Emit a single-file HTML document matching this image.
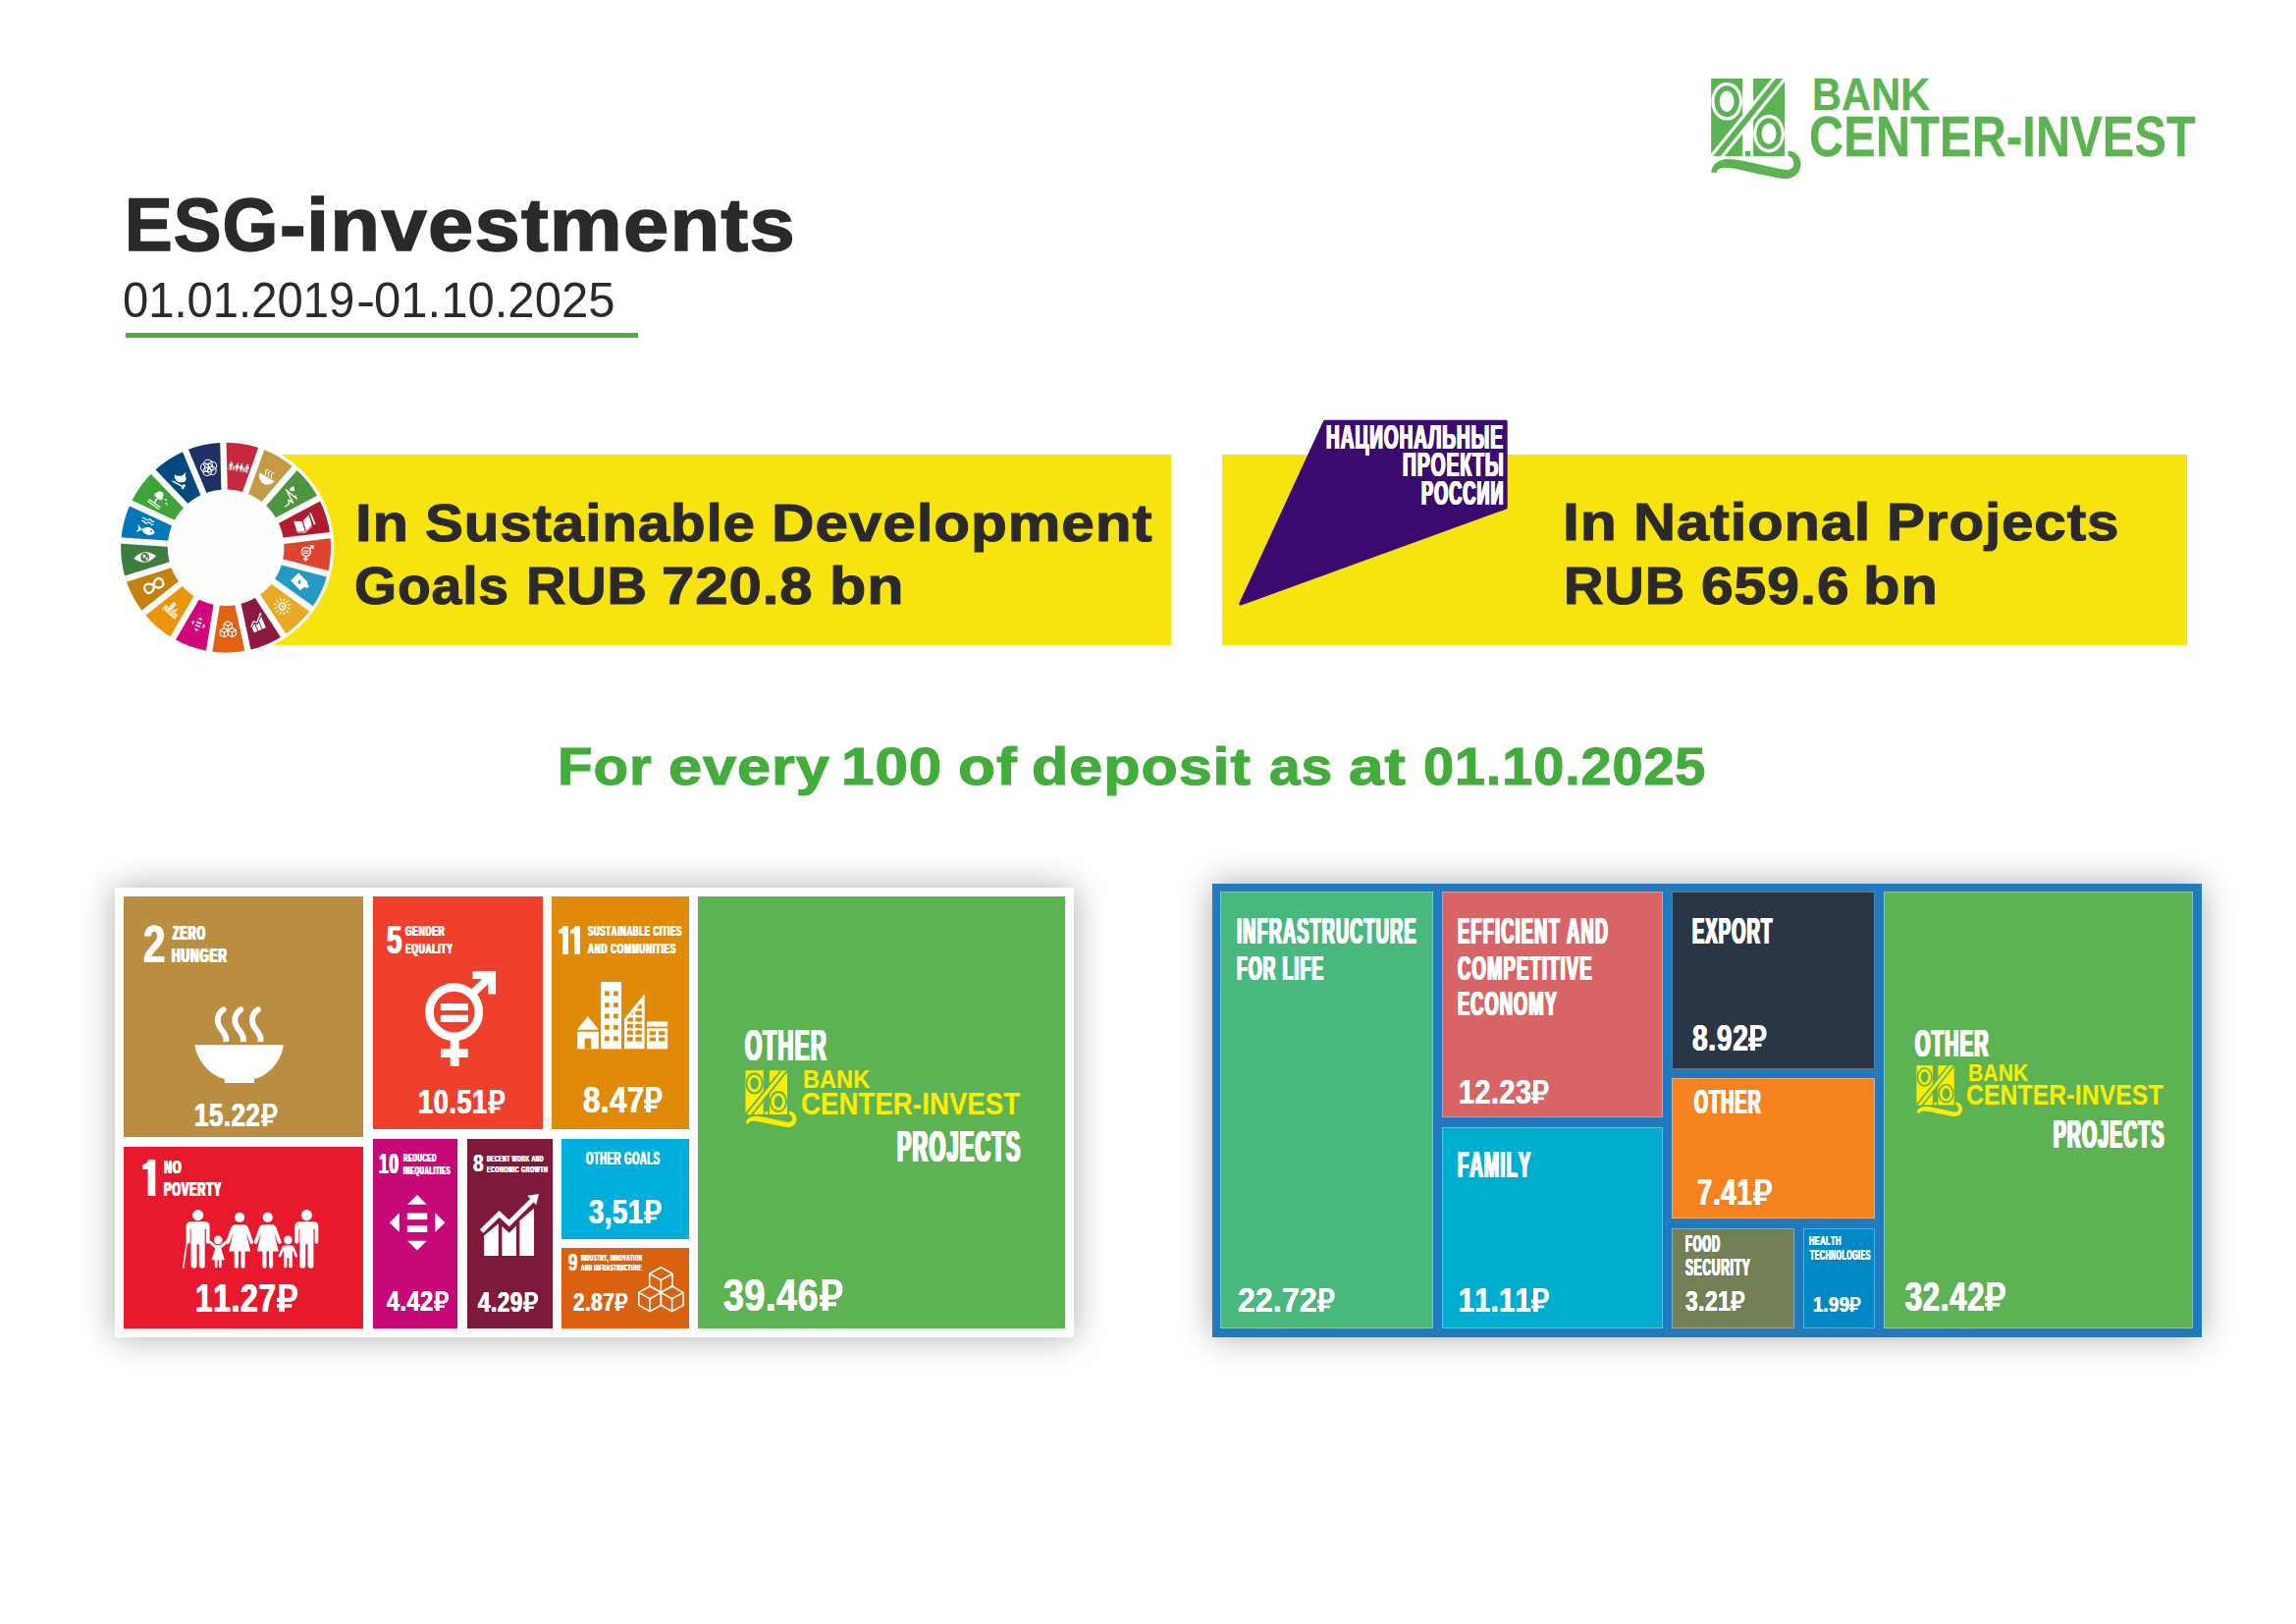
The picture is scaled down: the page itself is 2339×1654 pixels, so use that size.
<!DOCTYPE html>
<html lang="en"><head><meta charset="utf-8"><title>ESG-investments</title>
<style>
html,body{margin:0;padding:0;background:#fff}
body{width:2339px;height:1654px;position:relative;overflow:hidden;font-family:"Liberation Sans",sans-serif;font-kerning:none;}
.r{position:absolute}
.t{position:absolute;white-space:nowrap;line-height:1;font-weight:700;color:#fff;transform-origin:0 0;font-kerning:none;letter-spacing:0}
.rb{position:absolute;overflow:visible}
svg.ov{position:absolute;left:0;top:0}
.sr{position:absolute;left:0;top:0;width:1px;height:1px;overflow:hidden;opacity:0;font-size:1px}
</style></head>
<body>
<svg width="0" height="0" style="position:absolute"><defs>
<path id="rub" d="M45,0H235C345,0 400,62 400,170C400,282 340,345 230,345H150V392H290V458H150V540H45V458H0V392H45V345H0V265H45ZM150,85V265H222C275,265 295,232 295,172C295,112 275,85 222,85Z" fill-rule="evenodd"/>

</defs></svg>
<div class="r" style="left:128.20px;top:339.30px;width:521.80px;height:5.00px;background:#4caf3e;"></div>
<div class="r" style="left:230.00px;top:462.60px;width:962.80px;height:194.40px;background:#f7e30d;"></div>
<div class="r" style="left:1244.60px;top:462.60px;width:983.30px;height:194.40px;background:#f7e30d;"></div>
<div class="r" style="left:116.70px;top:904.00px;width:977.50px;height:457.60px;background:#fdfdfd;box-shadow:0 0 32px rgba(0,0,0,.33);"></div>
<div class="r" style="left:126.20px;top:913.20px;width:243.70px;height:244.50px;background:#bb8d40;"></div>
<div class="r" style="left:126.20px;top:1168.30px;width:243.70px;height:184.40px;background:#e8192d;"></div>
<div class="r" style="left:380.10px;top:913.20px;width:172.80px;height:236.50px;background:#ee402a;"></div>
<div class="r" style="left:562.00px;top:913.20px;width:140.00px;height:236.50px;background:#e08a0a;"></div>
<div class="r" style="left:380.10px;top:1160.10px;width:85.80px;height:192.60px;background:#c70877;"></div>
<div class="r" style="left:476.10px;top:1160.10px;width:86.80px;height:192.60px;background:#7f193b;"></div>
<div class="r" style="left:572.10px;top:1160.10px;width:129.80px;height:101.60px;background:#00aedb;"></div>
<div class="r" style="left:572.10px;top:1271.30px;width:129.80px;height:81.40px;background:#d9610f;"></div>
<div class="r" style="left:711.10px;top:913.20px;width:373.90px;height:439.50px;background:#5db253;"></div>
<div class="r" style="left:1234.80px;top:900.00px;width:1007.90px;height:461.60px;background:#2179be;box-shadow:0 0 32px rgba(0,0,0,.33);"></div>
<div class="r" style="left:1243.40px;top:908.40px;width:216.30px;height:444.80px;background:#48b87c;box-shadow:inset 0 0 0 1px rgba(255,255,255,.32);"></div>
<div class="r" style="left:1468.50px;top:908.40px;width:225.60px;height:229.60px;background:#d96465;box-shadow:inset 0 0 0 1px rgba(255,255,255,.32);"></div>
<div class="r" style="left:1468.50px;top:1147.70px;width:225.60px;height:205.50px;background:#00adcf;box-shadow:inset 0 0 0 1px rgba(255,255,255,.32);"></div>
<div class="r" style="left:1703.10px;top:908.40px;width:206.90px;height:180.90px;background:#2a3646;box-shadow:inset 0 0 0 1px rgba(255,255,255,.32);"></div>
<div class="r" style="left:1703.10px;top:1098.40px;width:206.90px;height:143.10px;background:#f6821f;box-shadow:inset 0 0 0 1px rgba(255,255,255,.32);"></div>
<div class="r" style="left:1703.10px;top:1250.60px;width:125.40px;height:102.60px;background:#737f54;box-shadow:inset 0 0 0 1px rgba(255,255,255,.32);"></div>
<div class="r" style="left:1837.30px;top:1250.60px;width:72.70px;height:102.60px;background:#0089c4;box-shadow:inset 0 0 0 1px rgba(255,255,255,.32);"></div>
<div class="r" style="left:1918.80px;top:908.40px;width:315.30px;height:444.80px;background:#5db253;box-shadow:inset 0 0 0 1px rgba(255,255,255,.32);"></div>
<svg class="ov" width="2339" height="1654" viewBox="0 0 2339 1654"><g transform="translate(1743.15,79.98) scale(0.073893) translate(-178,-135)">
<rect x="178" y="135" width="434" height="1070" fill="#5bb351"/>
<rect x="760" y="135" width="433" height="1070" fill="#5bb351"/>
<ellipse cx="395" cy="450" rx="215" ry="262" fill="#ffffff"/>
<ellipse cx="975" cy="895" rx="215" ry="262" fill="#ffffff"/>
<polygon points="150,1205 365,1205 1225,135 1015,135" fill="#ffffff"/>
<ellipse cx="395" cy="450" rx="172" ry="215" fill="#5bb351"/>
<ellipse cx="395" cy="450" rx="100" ry="145" fill="#ffffff"/>
<ellipse cx="975" cy="895" rx="172" ry="215" fill="#5bb351"/>
<ellipse cx="975" cy="895" rx="100" ry="145" fill="#ffffff"/>
<polygon points="205,1205 310,1205 1170,135 1070,135" fill="#5bb351"/>
<rect x="650" y="1135" width="70" height="70" fill="#5bb351"/>
<path d="M1240,1130 C1340,1140 1415,1210 1415,1310 C1415,1440 1320,1520 1200,1515 C1100,1510 900,1465 700,1420 C560,1388 450,1365 370,1365 C300,1365 262,1390 255,1430 L180,1430 C185,1330 270,1245 420,1245 C520,1245 700,1285 900,1330 C1050,1365 1170,1395 1235,1393 C1290,1390 1318,1350 1315,1300 C1312,1250 1285,1212 1240,1205 Z" fill="#5bb351"/></g>
<g transform="translate(759.5,1090.2) scale(0.041883) translate(-178,-135)">
<rect x="178" y="135" width="434" height="1070" fill="#ffed00"/>
<rect x="760" y="135" width="433" height="1070" fill="#ffed00"/>
<ellipse cx="395" cy="450" rx="215" ry="262" fill="#5db253"/>
<ellipse cx="975" cy="895" rx="215" ry="262" fill="#5db253"/>
<polygon points="150,1205 365,1205 1225,135 1015,135" fill="#5db253"/>
<ellipse cx="395" cy="450" rx="172" ry="215" fill="#ffed00"/>
<ellipse cx="395" cy="450" rx="100" ry="145" fill="#5db253"/>
<ellipse cx="975" cy="895" rx="172" ry="215" fill="#ffed00"/>
<ellipse cx="975" cy="895" rx="100" ry="145" fill="#5db253"/>
<polygon points="205,1205 310,1205 1170,135 1070,135" fill="#ffed00"/>
<rect x="650" y="1135" width="70" height="70" fill="#ffed00"/>
<path d="M1240,1130 C1340,1140 1415,1210 1415,1310 C1415,1440 1320,1520 1200,1515 C1100,1510 900,1465 700,1420 C560,1388 450,1365 370,1365 C300,1365 262,1390 255,1430 L180,1430 C185,1330 270,1245 420,1245 C520,1245 700,1285 900,1330 C1050,1365 1170,1395 1235,1393 C1290,1390 1318,1350 1315,1300 C1312,1250 1285,1212 1240,1205 Z" fill="#ffed00"/></g>
<g transform="translate(1952.5,1085.1) scale(0.037641) translate(-178,-135)">
<rect x="178" y="135" width="434" height="1070" fill="#ffed00"/>
<rect x="760" y="135" width="433" height="1070" fill="#ffed00"/>
<ellipse cx="395" cy="450" rx="215" ry="262" fill="#5db253"/>
<ellipse cx="975" cy="895" rx="215" ry="262" fill="#5db253"/>
<polygon points="150,1205 365,1205 1225,135 1015,135" fill="#5db253"/>
<ellipse cx="395" cy="450" rx="172" ry="215" fill="#ffed00"/>
<ellipse cx="395" cy="450" rx="100" ry="145" fill="#5db253"/>
<ellipse cx="975" cy="895" rx="172" ry="215" fill="#ffed00"/>
<ellipse cx="975" cy="895" rx="100" ry="145" fill="#5db253"/>
<polygon points="205,1205 310,1205 1170,135 1070,135" fill="#ffed00"/>
<rect x="650" y="1135" width="70" height="70" fill="#ffed00"/>
<path d="M1240,1130 C1340,1140 1415,1210 1415,1310 C1415,1440 1320,1520 1200,1515 C1100,1510 900,1465 700,1420 C560,1388 450,1365 370,1365 C300,1365 262,1390 255,1430 L180,1430 C185,1330 270,1245 420,1245 C520,1245 700,1285 900,1330 C1050,1365 1170,1395 1235,1393 C1290,1390 1318,1350 1315,1300 C1312,1250 1285,1212 1240,1205 Z" fill="#ffed00"/></g>
<circle cx="230.1" cy="557.7" r="110.2" fill="#fdfdfd"/>
<path d="M227.39,450.73 A107.0,107.0 0 0 1 266.22,456.98 L250.12,501.88 A59.3,59.3 0 0 0 228.60,498.42Z" fill="#c5283f"/>
<path d="M266.22,456.98 A107.0,107.0 0 0 1 300.16,476.83 L268.93,512.88 A59.3,59.3 0 0 0 250.12,501.88Z" fill="#c49a45"/>
<path d="M300.16,476.83 A107.0,107.0 0 0 1 324.64,507.60 L282.50,529.93 A59.3,59.3 0 0 0 268.93,512.88Z" fill="#4d9640"/>
<path d="M324.64,507.60 A107.0,107.0 0 0 1 336.36,545.13 L288.99,550.74 A59.3,59.3 0 0 0 282.50,529.93Z" fill="#b01c2e"/>
<path d="M336.36,545.13 A107.0,107.0 0 0 1 333.72,584.37 L287.53,572.48 A59.3,59.3 0 0 0 288.99,550.74Z" fill="#dd4530"/>
<path d="M333.72,584.37 A107.0,107.0 0 0 1 317.09,620.00 L278.31,592.23 A59.3,59.3 0 0 0 287.53,572.48Z" fill="#2499c4"/>
<path d="M317.09,620.00 A107.0,107.0 0 0 1 288.71,647.22 L262.58,607.31 A59.3,59.3 0 0 0 278.31,592.23Z" fill="#e9a826"/>
<path d="M288.71,647.22 A107.0,107.0 0 0 1 252.42,662.35 L242.47,615.70 A59.3,59.3 0 0 0 262.58,607.31Z" fill="#8c1a40"/>
<path d="M252.42,662.35 A107.0,107.0 0 0 1 213.11,663.34 L220.68,616.25 A59.3,59.3 0 0 0 242.47,615.70Z" fill="#e2620f"/>
<path d="M213.11,663.34 A107.0,107.0 0 0 1 176.09,650.07 L200.17,608.89 A59.3,59.3 0 0 0 220.68,616.25Z" fill="#d3057a"/>
<path d="M176.09,650.07 A107.0,107.0 0 0 1 146.37,624.32 L183.70,594.62 A59.3,59.3 0 0 0 200.17,608.89Z" fill="#eb960a"/>
<path d="M146.37,624.32 A107.0,107.0 0 0 1 127.96,589.58 L173.49,575.37 A59.3,59.3 0 0 0 183.70,594.62Z" fill="#c5810d"/>
<path d="M127.96,589.58 A107.0,107.0 0 0 1 123.34,550.53 L170.93,553.72 A59.3,59.3 0 0 0 173.49,575.37Z" fill="#3e7c3f"/>
<path d="M123.34,550.53 A107.0,107.0 0 0 1 133.14,512.45 L176.36,532.62 A59.3,59.3 0 0 0 170.93,553.72Z" fill="#0378b9"/>
<path d="M133.14,512.45 A107.0,107.0 0 0 1 156.04,480.48 L189.05,514.90 A59.3,59.3 0 0 0 176.36,532.62Z" fill="#3fa438"/>
<path d="M156.04,480.48 A107.0,107.0 0 0 1 188.93,458.94 L207.29,502.96 A59.3,59.3 0 0 0 189.05,514.90Z" fill="#03497f"/>
<path d="M188.93,458.94 A107.0,107.0 0 0 1 227.39,450.73 L228.60,498.42 A59.3,59.3 0 0 0 207.29,502.96Z" fill="#1e3066"/>
<line x1="228.65" y1="500.42" x2="227.34" y2="448.73" stroke="#fdfdfd" stroke-width="6.4"/>
<line x1="249.44" y1="503.76" x2="266.89" y2="455.10" stroke="#fdfdfd" stroke-width="6.4"/>
<line x1="267.62" y1="514.39" x2="301.47" y2="475.32" stroke="#fdfdfd" stroke-width="6.4"/>
<line x1="280.73" y1="530.87" x2="326.41" y2="506.66" stroke="#fdfdfd" stroke-width="6.4"/>
<line x1="287.00" y1="550.97" x2="338.35" y2="544.90" stroke="#fdfdfd" stroke-width="6.4"/>
<line x1="285.59" y1="571.98" x2="335.66" y2="584.87" stroke="#fdfdfd" stroke-width="6.4"/>
<line x1="276.69" y1="591.06" x2="318.72" y2="621.17" stroke="#fdfdfd" stroke-width="6.4"/>
<line x1="261.49" y1="605.64" x2="289.81" y2="648.89" stroke="#fdfdfd" stroke-width="6.4"/>
<line x1="242.05" y1="613.74" x2="252.83" y2="664.30" stroke="#fdfdfd" stroke-width="6.4"/>
<line x1="221.00" y1="614.27" x2="212.79" y2="665.32" stroke="#fdfdfd" stroke-width="6.4"/>
<line x1="201.18" y1="607.17" x2="175.08" y2="651.80" stroke="#fdfdfd" stroke-width="6.4"/>
<line x1="185.26" y1="593.38" x2="144.81" y2="625.57" stroke="#fdfdfd" stroke-width="6.4"/>
<line x1="175.40" y1="574.77" x2="126.05" y2="590.17" stroke="#fdfdfd" stroke-width="6.4"/>
<line x1="172.93" y1="553.86" x2="121.35" y2="550.39" stroke="#fdfdfd" stroke-width="6.4"/>
<line x1="178.18" y1="533.47" x2="131.33" y2="511.60" stroke="#fdfdfd" stroke-width="6.4"/>
<line x1="190.44" y1="516.35" x2="154.65" y2="479.03" stroke="#fdfdfd" stroke-width="6.4"/>
<line x1="208.06" y1="504.81" x2="188.17" y2="457.09" stroke="#fdfdfd" stroke-width="6.4"/>
<polygon points="1349.5,429.3 1534.2,429.3 1534.2,517 1263.7,615.1" fill="#3b0a6f" stroke="#3b0a6f" stroke-width="3" stroke-linejoin="round"/>
<g transform="translate(120,905) scale(0.160102)" ><path d="M672,770 C622,805 628,860 662,900 C690,933 692,955 688,975" fill="none" stroke="#fff" stroke-width="37" stroke-linecap="round"/><path d="M782,770 C732,805 738,860 772,900 C800,933 802,955 798,975" fill="none" stroke="#fff" stroke-width="37" stroke-linecap="round"/><path d="M892,770 C842,805 848,860 882,900 C910,933 912,955 908,975" fill="none" stroke="#fff" stroke-width="37" stroke-linecap="round"/><rect x="640" y="975" width="300" height="24" fill="#bb8d40"/><path d="M490,995 H1055 C1040,1100 960,1190 868,1212 V1237 H680 V1212 C590,1190 505,1100 490,995Z" fill="#fff"/></g>
<g transform="translate(120,1160) scale(0.123168)" ><circle cx="663" cy="630" r="45" fill="#fff"/><path transform="translate(0,0)" d="M605,685 H720 Q760,685 760,725 V850 Q760,866 745,866 Q730,866 730,850 V745 H720 V1050 Q720,1070 698,1070 Q676,1070 672,1050 V870 H654 V1050 Q654,1070 630,1070 Q608,1070 605,1050 V745 H598 V850 Q598,866 582,866 Q565,866 565,850 V725 Q565,685 605,685Z" fill="#fff"/><line x1="572" y1="850" x2="541" y2="1068" stroke="#fff" stroke-width="13"/><circle cx="1562" cy="630" r="45" fill="#fff"/><path transform="translate(899,0)" d="M605,685 H720 Q760,685 760,725 V850 Q760,866 745,866 Q730,866 730,850 V745 H720 V1050 Q720,1070 698,1070 Q676,1070 672,1050 V870 H654 V1050 Q654,1070 630,1070 Q608,1070 605,1050 V745 H598 V850 Q598,866 582,866 Q565,866 565,850 V725 Q565,685 605,685Z" fill="#fff"/><circle cx="1008" cy="648" r="41" fill="#fff"/><path transform="translate(0,0)" d="M965,708 H1051 Q1072,710 1080,735 L1121,850 Q1124,864 1110,868 Q1098,870 1092,856 L1062,775 L1097,930 H1052 V1052 Q1052,1070 1036,1070 Q1019,1070 1019,1052 V930 H998 V1052 Q998,1070 981,1070 Q964,1070 964,1052 V930 H919 L954,775 L924,856 Q918,870 906,868 Q892,864 895,850 L936,735 Q944,710 965,708Z" fill="#fff"/><circle cx="1240" cy="648" r="41" fill="#fff"/><path transform="translate(232,0)" d="M965,708 H1051 Q1072,710 1080,735 L1121,850 Q1124,864 1110,868 Q1098,870 1092,856 L1062,775 L1097,930 H1052 V1052 Q1052,1070 1036,1070 Q1019,1070 1019,1052 V930 H998 V1052 Q998,1070 981,1070 Q964,1070 964,1052 V930 H919 L954,775 L924,856 Q918,870 906,868 Q892,864 895,850 L936,735 Q944,710 965,708Z" fill="#fff"/><circle cx="830" cy="835" r="35" fill="#fff"/><path d="M812,878 H848 L890,842 Q900,836 906,846 Q910,856 902,862 L855,905 L884,1000 H858 V1056 Q858,1066 847,1066 Q836,1066 836,1056 V1000 H824 V1056 Q824,1066 813,1066 Q802,1066 802,1056 V1000 H776 L805,905 L758,862 Q750,856 754,846 Q760,836 770,842 Z" fill="#fff"/><circle cx="1408" cy="835" r="35" fill="#fff"/><path d="M1380,880 H1436 Q1452,882 1458,896 L1486,962 Q1490,974 1480,978 Q1470,980 1466,970 L1444,920 V1056 Q1444,1068 1430,1068 Q1416,1068 1416,1056 V985 H1400 V1056 Q1400,1068 1386,1068 Q1372,1068 1372,1056 V920 L1350,970 Q1346,980 1336,978 Q1326,974 1330,962 L1358,896 Q1364,882 1380,880Z" fill="#fff"/></g>
<g transform="translate(375,905) scale(0.157060)" ><circle cx="558" cy="800" r="160" fill="none" stroke="#fff" stroke-width="55"/><rect x="470" y="745" width="178" height="45" fill="#fff"/><rect x="470" y="820" width="178" height="45" fill="#fff"/><rect x="533" y="975" width="57" height="177" fill="#fff"/><rect x="472" y="1040" width="176" height="55" fill="#fff"/><line x1="668" y1="690" x2="800" y2="562" stroke="#fff" stroke-width="50"/><polygon points="678,535 828,535 828,685 778,685 778,585 678,585" fill="#fff"/></g>
<g transform="translate(375,905) scale(0.157060)" ><polygon points="1355,915 1425,828 1495,915" fill="#fff"/><rect x="1357" y="928" width="138" height="112" fill="#fff"/><rect x="1405" y="972" width="42" height="68" fill="#e08a0a"/><rect x="1510" y="605" width="133" height="435" fill="#fff"/><rect x="1535" y="665" width="30" height="30" fill="#e08a0a"/><rect x="1592" y="665" width="30" height="30" fill="#e08a0a"/><rect x="1535" y="740" width="30" height="30" fill="#e08a0a"/><rect x="1592" y="740" width="30" height="30" fill="#e08a0a"/><rect x="1535" y="812" width="30" height="30" fill="#e08a0a"/><rect x="1592" y="812" width="30" height="30" fill="#e08a0a"/><rect x="1535" y="885" width="30" height="30" fill="#e08a0a"/><rect x="1592" y="885" width="30" height="30" fill="#e08a0a"/><rect x="1535" y="958" width="30" height="30" fill="#e08a0a"/><rect x="1592" y="958" width="30" height="30" fill="#e08a0a"/><polygon points="1662,845 1793,683 1793,1040 1662,1040" fill="#fff"/><clipPath id="cl11"><polygon points="1678,1000 1678,857 1776,736 1776,1000"/></clipPath><g clip-path="url(#cl11)"><rect x="1678" y="708" width="40" height="27" fill="#e08a0a"/><rect x="1734" y="708" width="42" height="27" fill="#e08a0a"/><rect x="1678" y="751" width="40" height="27" fill="#e08a0a"/><rect x="1734" y="751" width="42" height="27" fill="#e08a0a"/><rect x="1678" y="794" width="40" height="27" fill="#e08a0a"/><rect x="1734" y="794" width="42" height="27" fill="#e08a0a"/><rect x="1678" y="836" width="40" height="27" fill="#e08a0a"/><rect x="1734" y="836" width="42" height="27" fill="#e08a0a"/><rect x="1678" y="878" width="40" height="27" fill="#e08a0a"/><rect x="1734" y="878" width="42" height="27" fill="#e08a0a"/><rect x="1678" y="920" width="40" height="27" fill="#e08a0a"/><rect x="1734" y="920" width="42" height="27" fill="#e08a0a"/><rect x="1678" y="963" width="40" height="27" fill="#e08a0a"/><rect x="1734" y="963" width="42" height="27" fill="#e08a0a"/></g><rect x="1808" y="862" width="135" height="33" fill="#fff"/><rect x="1808" y="905" width="135" height="135" fill="#fff"/><rect x="1825" y="925" width="40" height="25" fill="#e08a0a"/><rect x="1885" y="925" width="40" height="25" fill="#e08a0a"/><rect x="1825" y="965" width="40" height="25" fill="#e08a0a"/><rect x="1885" y="965" width="40" height="25" fill="#e08a0a"/></g>
<g transform="translate(375,1155) scale(0.145900)" fill="#fff"><polygon points="343,425 410,492 275,492"/><polygon points="343,812 410,745 275,745"/><polygon points="150,618 218,550 218,685"/><polygon points="537,618 468,550 468,685"/><rect x="273" y="552" width="140" height="45"/><rect x="273" y="640" width="140" height="45"/></g>
<g transform="translate(375,1155) scale(0.145900)" fill="#fff"><polygon points="810,850 810,710 910,625 910,850"/><polygon points="935,850 935,645 985,690 1035,640 1035,850"/><polygon points="1058,850 1058,605 1158,520 1158,850"/><polyline points="792,678 915,558 985,622 1150,457" fill="none" stroke="#fff" stroke-width="34"/><polygon points="1112,430 1192,418 1174,496"/></g>
<g transform="translate(375,1155) scale(0.145900)" fill="none" stroke="#fff" stroke-width="11" stroke-linejoin="round"><polygon points="2045,930 2125,975 2125,1060 2045,1105 1965,1060 1965,975"/><polyline points="1965,975 2045,1020 2125,975"/><line x1="2045" y1="1020" x2="2045" y2="1105"/><polygon points="1968,1062 2046,1106 2046,1194 1968,1238 1890,1194 1890,1106"/><polyline points="1890,1106 1968,1150 2046,1106"/><line x1="1968" y1="1150" x2="1968" y2="1238"/><polygon points="2122,1062 2200,1106 2200,1194 2122,1238 2044,1194 2044,1106"/><polyline points="2044,1106 2122,1150 2200,1106"/><line x1="2122" y1="1150" x2="2122" y2="1238"/></g>
<g transform="translate(243.28,475.75) rotate(9.1)"><g transform="scale(0.0186) translate(-1100,-829)" ><circle cx="663" cy="630" r="45" fill="#fff"/><path transform="translate(0,0)" d="M605,685 H720 Q760,685 760,725 V850 Q760,866 745,866 Q730,866 730,850 V745 H720 V1050 Q720,1070 698,1070 Q676,1070 672,1050 V870 H654 V1050 Q654,1070 630,1070 Q608,1070 605,1050 V745 H598 V850 Q598,866 582,866 Q565,866 565,850 V725 Q565,685 605,685Z" fill="#fff"/><line x1="572" y1="850" x2="541" y2="1068" stroke="#fff" stroke-width="13"/><circle cx="1562" cy="630" r="45" fill="#fff"/><path transform="translate(899,0)" d="M605,685 H720 Q760,685 760,725 V850 Q760,866 745,866 Q730,866 730,850 V745 H720 V1050 Q720,1070 698,1070 Q676,1070 672,1050 V870 H654 V1050 Q654,1070 630,1070 Q608,1070 605,1050 V745 H598 V850 Q598,866 582,866 Q565,866 565,850 V725 Q565,685 605,685Z" fill="#fff"/><circle cx="1008" cy="648" r="41" fill="#fff"/><path transform="translate(0,0)" d="M965,708 H1051 Q1072,710 1080,735 L1121,850 Q1124,864 1110,868 Q1098,870 1092,856 L1062,775 L1097,930 H1052 V1052 Q1052,1070 1036,1070 Q1019,1070 1019,1052 V930 H998 V1052 Q998,1070 981,1070 Q964,1070 964,1052 V930 H919 L954,775 L924,856 Q918,870 906,868 Q892,864 895,850 L936,735 Q944,710 965,708Z" fill="#fff"/><circle cx="1240" cy="648" r="41" fill="#fff"/><path transform="translate(232,0)" d="M965,708 H1051 Q1072,710 1080,735 L1121,850 Q1124,864 1110,868 Q1098,870 1092,856 L1062,775 L1097,930 H1052 V1052 Q1052,1070 1036,1070 Q1019,1070 1019,1052 V930 H998 V1052 Q998,1070 981,1070 Q964,1070 964,1052 V930 H919 L954,775 L924,856 Q918,870 906,868 Q892,864 895,850 L936,735 Q944,710 965,708Z" fill="#fff"/><circle cx="830" cy="835" r="35" fill="#fff"/><path d="M812,878 H848 L890,842 Q900,836 906,846 Q910,856 902,862 L855,905 L884,1000 H858 V1056 Q858,1066 847,1066 Q836,1066 836,1056 V1000 H824 V1056 Q824,1066 813,1066 Q802,1066 802,1056 V1000 H776 L805,905 L758,862 Q750,856 754,846 Q760,836 770,842 Z" fill="#fff"/><circle cx="1408" cy="835" r="35" fill="#fff"/><path d="M1380,880 H1436 Q1452,882 1458,896 L1486,962 Q1490,974 1480,978 Q1470,980 1466,970 L1444,920 V1056 Q1444,1068 1430,1068 Q1416,1068 1416,1056 V985 H1400 V1056 Q1400,1068 1386,1068 Q1372,1068 1372,1056 V920 L1350,970 Q1346,980 1336,978 Q1326,974 1330,962 L1358,896 Q1364,882 1380,880Z" fill="#fff"/></g></g>
<g transform="translate(271.99,486.05) rotate(30.3)"><g transform="scale(0.031) translate(-772,-1000)" ><path d="M672,770 C622,805 628,860 662,900 C690,933 692,955 688,975" fill="none" stroke="#fff" stroke-width="37" stroke-linecap="round"/><path d="M782,770 C732,805 738,860 772,900 C800,933 802,955 798,975" fill="none" stroke="#fff" stroke-width="37" stroke-linecap="round"/><path d="M892,770 C842,805 848,860 882,900 C910,933 912,955 908,975" fill="none" stroke="#fff" stroke-width="37" stroke-linecap="round"/><rect x="640" y="975" width="300" height="24" fill="#c49a45"/><path d="M490,995 H1055 C1040,1100 960,1190 868,1212 V1237 H680 V1212 C590,1190 505,1100 490,995Z" fill="#fff"/></g></g>
<g transform="translate(295.05,506.02) rotate(-38.5)"><path d="M-10,5 H-4.5 L-3,1.5 L-1,7 L1.8,-8 L4.3,6 L5.6,2.5" fill="none" stroke="#fff" stroke-width="1.3" stroke-linejoin="round"/><path d="M7.2,-1.5 L4.6,-4.3 A1.6,1.6 0 0 1 7.2,-6 A1.6,1.6 0 0 1 9.8,-4.3Z" fill="#fff"/></g>
<g transform="translate(309.33,532.97) rotate(-17.3)"><path d="M-9,-5 L-1,-2.5 V8 L-9,5.5Z M0.2,-2.5 L7.5,-6.5 V4 L0.2,8Z" fill="#fff"/><path d="M-9,6.6 L-1,9.2 L7.5,5.2" fill="none" stroke="#fff" stroke-width="0.9"/><line x1="9.6" y1="-8" x2="10.6" y2="4.5" stroke="#fff" stroke-width="1.7"/></g>
<g transform="translate(312.91,563.26) rotate(3.8)"><g transform="scale(0.0276) translate(-599,-843)" ><circle cx="558" cy="800" r="160" fill="none" stroke="#fff" stroke-width="55"/><rect x="470" y="745" width="178" height="45" fill="#fff"/><rect x="470" y="820" width="178" height="45" fill="#fff"/><rect x="533" y="975" width="57" height="177" fill="#fff"/><rect x="472" y="1040" width="176" height="55" fill="#fff"/><line x1="668" y1="690" x2="800" y2="562" stroke="#fff" stroke-width="50"/><polygon points="678,535 828,535 828,685 778,685 778,585 678,585" fill="#fff"/></g></g>
<g transform="translate(305.31,592.80) rotate(25.0)"><path d="M-5,-8 L7,-3.5 L8.5,-1 L4,7.5 L-9,2.5Z" fill="#fff"/><path d="M-0.5,-2.5 C1.5,-0.5 2,1.5 0,2.4 C-2,1.8 -2,0 -0.5,-2.5Z" fill="#2499c4"/><rect x="7.2" y="-1.2" width="3" height="3.4" fill="#fff" transform="rotate(20 8 0)"/></g>
<g transform="translate(287.55,617.60) rotate(-43.8)"><circle r="4.1" fill="#fff"/><circle r="2.6" fill="#e9a826"/><circle r="1.3" fill="#fff"/><g stroke="#fff" stroke-width="1.25"><line x1="0" y1="-5.6" x2="0" y2="-8.6" transform="rotate(0)"/><line x1="0" y1="-5.6" x2="0" y2="-8.6" transform="rotate(30)"/><line x1="0" y1="-5.6" x2="0" y2="-8.6" transform="rotate(60)"/><line x1="0" y1="-5.6" x2="0" y2="-8.6" transform="rotate(90)"/><line x1="0" y1="-5.6" x2="0" y2="-8.6" transform="rotate(120)"/><line x1="0" y1="-5.6" x2="0" y2="-8.6" transform="rotate(150)"/><line x1="0" y1="-5.6" x2="0" y2="-8.6" transform="rotate(180)"/><line x1="0" y1="-5.6" x2="0" y2="-8.6" transform="rotate(210)"/><line x1="0" y1="-5.6" x2="0" y2="-8.6" transform="rotate(240)"/><line x1="0" y1="-5.6" x2="0" y2="-8.6" transform="rotate(270)"/><line x1="0" y1="-5.6" x2="0" y2="-8.6" transform="rotate(300)"/><line x1="0" y1="-5.6" x2="0" y2="-8.6" transform="rotate(330)"/></g></g>
<g transform="translate(262.03,634.31) rotate(-22.6)"><g transform="scale(0.0373) translate(-991,-634)" fill="#fff"><polygon points="810,850 810,710 910,625 910,850"/><polygon points="935,850 935,645 985,690 1035,640 1035,850"/><polygon points="1058,850 1058,605 1158,520 1158,850"/><polyline points="792,678 915,558 985,622 1150,457" fill="none" stroke="#fff" stroke-width="34"/><polygon points="1112,430 1192,418 1174,496"/></g></g>
<g transform="translate(232.20,640.67) rotate(-1.4)"><g transform="scale(0.052) translate(-2044,-1082)" fill="none" stroke="#fff" stroke-width="20" stroke-linejoin="round"><polygon points="2045,930 2125,975 2125,1060 2045,1105 1965,1060 1965,975"/><polyline points="1965,975 2045,1020 2125,975"/><line x1="2045" y1="1020" x2="2045" y2="1105"/><polygon points="1968,1062 2046,1106 2046,1194 1968,1238 1890,1194 1890,1106"/><polyline points="1890,1106 1968,1150 2046,1106"/><line x1="1968" y1="1150" x2="1968" y2="1238"/><polygon points="2122,1062 2200,1106 2200,1194 2122,1238 2044,1194 2044,1106"/><polyline points="2044,1106 2122,1150 2200,1106"/><line x1="2122" y1="1150" x2="2122" y2="1238"/></g></g>
<g transform="translate(202.08,635.83) rotate(19.7)"><g transform="scale(0.0388) translate(-343,-618)" fill="#fff"><polygon points="343,425 410,492 275,492"/><polygon points="343,812 410,745 275,745"/><polygon points="150,618 218,550 218,685"/><polygon points="537,618 468,550 468,685"/><rect x="273" y="552" width="140" height="45"/><rect x="273" y="640" width="140" height="45"/></g></g>
<g transform="translate(175.75,620.43) rotate(40.9)"><g transform="scale(0.0289) translate(-1649,-822)" ><polygon points="1355,915 1425,828 1495,915" fill="#fff"/><rect x="1357" y="928" width="138" height="112" fill="#fff"/><rect x="1405" y="972" width="42" height="68" fill="#eb960a"/><rect x="1510" y="605" width="133" height="435" fill="#fff"/><rect x="1535" y="665" width="30" height="30" fill="#eb960a"/><rect x="1592" y="665" width="30" height="30" fill="#eb960a"/><rect x="1535" y="740" width="30" height="30" fill="#eb960a"/><rect x="1592" y="740" width="30" height="30" fill="#eb960a"/><rect x="1535" y="812" width="30" height="30" fill="#eb960a"/><rect x="1592" y="812" width="30" height="30" fill="#eb960a"/><rect x="1535" y="885" width="30" height="30" fill="#eb960a"/><rect x="1592" y="885" width="30" height="30" fill="#eb960a"/><rect x="1535" y="958" width="30" height="30" fill="#eb960a"/><rect x="1592" y="958" width="30" height="30" fill="#eb960a"/><polygon points="1662,845 1793,683 1793,1040 1662,1040" fill="#fff"/><clipPath id="cl11w"><polygon points="1678,1000 1678,857 1776,736 1776,1000"/></clipPath><g clip-path="url(#cl11w)"><rect x="1678" y="708" width="40" height="27" fill="#eb960a"/><rect x="1734" y="708" width="42" height="27" fill="#eb960a"/><rect x="1678" y="751" width="40" height="27" fill="#eb960a"/><rect x="1734" y="751" width="42" height="27" fill="#eb960a"/><rect x="1678" y="794" width="40" height="27" fill="#eb960a"/><rect x="1734" y="794" width="42" height="27" fill="#eb960a"/><rect x="1678" y="836" width="40" height="27" fill="#eb960a"/><rect x="1734" y="836" width="42" height="27" fill="#eb960a"/><rect x="1678" y="878" width="40" height="27" fill="#eb960a"/><rect x="1734" y="878" width="42" height="27" fill="#eb960a"/><rect x="1678" y="920" width="40" height="27" fill="#eb960a"/><rect x="1734" y="920" width="42" height="27" fill="#eb960a"/><rect x="1678" y="963" width="40" height="27" fill="#eb960a"/><rect x="1734" y="963" width="42" height="27" fill="#eb960a"/></g><rect x="1808" y="862" width="135" height="33" fill="#fff"/><rect x="1808" y="905" width="135" height="135" fill="#fff"/><rect x="1825" y="925" width="40" height="25" fill="#eb960a"/><rect x="1885" y="925" width="40" height="25" fill="#eb960a"/><rect x="1825" y="965" width="40" height="25" fill="#eb960a"/><rect x="1885" y="965" width="40" height="25" fill="#eb960a"/></g></g>
<g transform="translate(156.76,596.56) rotate(-27.9)"><path d="M0,0 C-3,-6.5 -10,-6 -10,0 C-10,6 -3,6.5 0,0 C3,-6.5 10,-6 10,0 C10,6 3,6.5 0,0" fill="none" stroke="#fff" stroke-width="2.3"/></g>
<g transform="translate(147.67,567.45) rotate(-6.7)"><path d="M-11.5,0 Q0,-10.5 11.5,0 Q0,10.5 -11.5,0Z" fill="#fff"/><circle r="4.4" fill="#3e7c3f"/><path d="M-2.5,-2 L0.5,-3 L1,-0.5 L-1,1.5Z M1.2,0.8 L3.2,0.2 L2.4,3 L0.6,2.6Z" fill="#fff"/></g>
<g transform="translate(149.72,537.01) rotate(14.4)"><path d="M-4.5,3.5 C-1,-1.5 6,-1.5 9,3.5 C6,8.5 -1,8.5 -4.5,3.5Z M-4,3.5 L-9.5,-0.5 L-8,3.5 L-9.5,7.5Z" fill="#fff"/><circle cx="5.2" cy="2.8" r="0.9" fill="#0378b9"/><path d="M-7,-4.6 q1.6,-1.6 3.2,0 t3.2,0 t3.2,0 t3.2,0 M-7,-7.8 q1.6,-1.6 3.2,0 t3.2,0 t3.2,0 t3.2,0" fill="none" stroke="#fff" stroke-width="1.2"/></g>
<g transform="translate(162.62,509.37) rotate(35.6)"><circle cx="-3" cy="-4.5" r="3.6" fill="#fff"/><circle cx="-5.5" cy="-2.6" r="2.3" fill="#fff"/><circle cx="-0.6" cy="-2.6" r="2.3" fill="#fff"/><rect x="-3.7" y="-1" width="1.5" height="6" fill="#fff"/><path d="M-9.5,5.6 H5 M-9.5,8 H5" stroke="#fff" stroke-width="1.2"/><path d="M3.5,-3.5 l1.4,-1 l1.4,1 M6.5,-0.5 l1.4,-1 l1.4,1" fill="none" stroke="#fff" stroke-width="0.9"/></g>
<g transform="translate(184.63,488.26) rotate(-33.2)"><path d="M-1.5,2.5 C-5.5,1 -6,-4 -3,-8 C-2.2,-4.8 0.5,-3.8 2.8,-2.6 L8,-3.4 L5.4,-0.6 C5.2,3.5 1.2,5.2 -1.5,2.5Z" fill="#fff"/><line x1="-8.5" y1="-3.5" x2="-2.5" y2="7.5" stroke="#fff" stroke-width="1.4"/><rect x="-4.8" y="6.2" width="5" height="2.6" fill="#fff" transform="rotate(-28 -2.3 7.5)"/></g>
<g transform="translate(212.79,476.53) rotate(-12.0)"><g fill="none" stroke="#fff" stroke-width="1.05"><circle cx="0.00" cy="-4.10" r="4.3"/><circle cx="3.90" cy="-1.27" r="4.3"/><circle cx="2.41" cy="3.32" r="4.3"/><circle cx="-2.41" cy="3.32" r="4.3"/><circle cx="-3.90" cy="-1.27" r="4.3"/><circle r="4.3"/></g></g></svg>
<div class="t" style="left:126.76px;top:192px;font-size:75.54px;color:#2b2a29;-webkit-text-stroke:1.53px #2b2a29;letter-spacing:1.15px;transform:scaleX(0.9654)">ESG</div>
<div class="t" style="left:284.90px;top:192px;font-size:75.54px;color:#2b2a29;-webkit-text-stroke:1.53px #2b2a29;letter-spacing:1.15px;transform:scaleX(1.0526)">-</div>
<div class="t" style="left:311.64px;top:192px;font-size:75.54px;color:#2b2a29;-webkit-text-stroke:1.53px #2b2a29;letter-spacing:1.15px;transform:scaleX(1.1005)">investments</div>
<div class="t" style="left:125.36px;top:281px;font-size:50.72px;font-weight:400;color:#2b2a29;transform:scaleX(0.9304)">01.01.2019</div>
<div class="t" style="left:363.03px;top:281px;font-size:50.72px;font-weight:400;color:#2b2a29;transform:scaleX(1.1387)">-</div>
<div class="t" style="left:380.88px;top:281px;font-size:50.72px;font-weight:400;color:#2b2a29;transform:scaleX(0.9670)">01.10.2025</div>
<div class="t" style="left:362.31px;top:505px;font-size:54.07px;color:#2b2a29;-webkit-text-stroke:1.10px #2b2a29;letter-spacing:0.83px;transform:scaleX(1.1045)">In</div>
<div class="t" style="left:433.21px;top:505px;font-size:54.07px;color:#2b2a29;-webkit-text-stroke:1.10px #2b2a29;letter-spacing:0.83px;transform:scaleX(1.0778)">Sustainable</div>
<div class="t" style="left:785.68px;top:505px;font-size:54.07px;color:#2b2a29;-webkit-text-stroke:1.10px #2b2a29;letter-spacing:0.83px;transform:scaleX(1.1141)">Development</div>
<div class="t" style="left:361.29px;top:569px;font-size:54.07px;color:#2b2a29;-webkit-text-stroke:1.10px #2b2a29;letter-spacing:0.83px;transform:scaleX(1.0232)">Goals</div>
<div class="t" style="left:535.63px;top:569px;font-size:54.07px;color:#2b2a29;-webkit-text-stroke:1.10px #2b2a29;letter-spacing:0.83px;transform:scaleX(1.0350)">RUB</div>
<div class="t" style="left:673.84px;top:569px;font-size:54.07px;color:#2b2a29;-webkit-text-stroke:1.10px #2b2a29;letter-spacing:0.83px;transform:scaleX(1.1074)">720.8</div>
<div class="t" style="left:844.80px;top:569px;font-size:54.07px;color:#2b2a29;-webkit-text-stroke:1.10px #2b2a29;letter-spacing:0.83px;transform:scaleX(1.1283)">bn</div>
<div class="t" style="left:1592.25px;top:504px;font-size:54.22px;color:#2b2a29;-webkit-text-stroke:1.10px #2b2a29;letter-spacing:0.83px;transform:scaleX(1.1201)">In</div>
<div class="t" style="left:1664.12px;top:504px;font-size:54.22px;color:#2b2a29;-webkit-text-stroke:1.10px #2b2a29;letter-spacing:0.83px;transform:scaleX(1.0989)">National</div>
<div class="t" style="left:1921.59px;top:504px;font-size:54.22px;color:#2b2a29;-webkit-text-stroke:1.10px #2b2a29;letter-spacing:0.83px;transform:scaleX(1.0759)">Projects</div>
<div class="t" style="left:1592.52px;top:569px;font-size:54.07px;color:#2b2a29;-webkit-text-stroke:1.10px #2b2a29;letter-spacing:0.83px;transform:scaleX(1.0376)">RUB</div>
<div class="t" style="left:1732.65px;top:569px;font-size:54.07px;color:#2b2a29;-webkit-text-stroke:1.10px #2b2a29;letter-spacing:0.83px;transform:scaleX(1.0871)">659.6</div>
<div class="t" style="left:1898.48px;top:569px;font-size:54.07px;color:#2b2a29;-webkit-text-stroke:1.10px #2b2a29;letter-spacing:0.83px;transform:scaleX(1.1349)">bn</div>
<div class="t" style="left:567.70px;top:754px;font-size:54.30px;color:#42ad3b;-webkit-text-stroke:1.12px #42ad3b;letter-spacing:0.84px;transform:scaleX(1.0744)">For</div>
<div class="t" style="left:680.54px;top:754px;font-size:54.30px;color:#42ad3b;-webkit-text-stroke:1.12px #42ad3b;letter-spacing:0.84px;transform:scaleX(1.1285)">every</div>
<div class="t" style="left:857.33px;top:754px;font-size:54.30px;color:#42ad3b;-webkit-text-stroke:1.12px #42ad3b;letter-spacing:0.84px;transform:scaleX(1.1077)">100</div>
<div class="t" style="left:976.31px;top:754px;font-size:54.30px;color:#42ad3b;-webkit-text-stroke:1.12px #42ad3b;letter-spacing:0.84px;transform:scaleX(1.1485)">of</div>
<div class="t" style="left:1051.43px;top:754px;font-size:54.30px;color:#42ad3b;-webkit-text-stroke:1.12px #42ad3b;letter-spacing:0.84px;transform:scaleX(1.1246)">deposit</div>
<div class="t" style="left:1292.62px;top:754px;font-size:54.30px;color:#42ad3b;-webkit-text-stroke:1.12px #42ad3b;letter-spacing:0.84px;transform:scaleX(1.0489)">as</div>
<div class="t" style="left:1373.99px;top:754px;font-size:54.30px;color:#42ad3b;-webkit-text-stroke:1.12px #42ad3b;letter-spacing:0.84px;transform:scaleX(1.1774)">at</div>
<div class="t" style="left:1450.17px;top:754px;font-size:54.30px;color:#42ad3b;-webkit-text-stroke:1.12px #42ad3b;letter-spacing:0.84px;transform:scaleX(1.0290)">01.10.2025</div>
<div class="t" style="left:1351.44px;top:428px;font-size:35.47px;text-shadow:0.66px 0 0,-0.66px 0 0,1.32px 0 0,-1.32px 0 0;letter-spacing:1.85px;transform:scaleX(0.5351)">НАЦИОНАЛЬНЫЕ</div>
<div class="t" style="left:1429.20px;top:456px;font-size:35.47px;text-shadow:0.63px 0 0,-0.63px 0 0,1.26px 0 0,-1.26px 0 0;letter-spacing:1.77px;transform:scaleX(0.5433)">ПРОЕКТЫ</div>
<div class="t" style="left:1448.16px;top:485px;font-size:35.47px;text-shadow:0.76px 0 0,-0.76px 0 0,1.52px 0 0,-1.52px 0 0;letter-spacing:2.12px;transform:scaleX(0.5093)">РОССИИ</div>
<div class="t" style="left:146.05px;top:934px;font-size:54.22px;text-shadow:0.74px 0 0,-0.74px 0 0;letter-spacing:1.03px;transform:scaleX(0.7434)">2</div>
<div class="t" style="left:175.62px;top:940px;font-size:20.93px;text-shadow:0.72px 0 0,-0.72px 0 0,1.43px 0 0,-1.43px 0 0;letter-spacing:2.00px;transform:scaleX(0.5144)">ZERO</div>
<div class="t" style="left:175.38px;top:962px;font-size:21.08px;text-shadow:0.60px 0 0,-0.60px 0 0,1.19px 0 0,-1.19px 0 0;letter-spacing:1.67px;transform:scaleX(0.5616)">HUNGER</div>
<div class="t" style="left:198.36px;top:1120px;font-size:32.70px;text-shadow:0.49px 0 0,-0.49px 0 0;letter-spacing:0.68px;transform:scaleX(0.7911)">15.22</div><svg class="rb" style="left:265.85px;top:1124px;width:16.65px;height:23px" viewBox="0 0 400 540" preserveAspectRatio="none"><use href="#rub" fill="#fff"/></svg>
<svg class="rb" style="left:144.60px;top:1181px;width:13.30px;height:37px" viewBox="0 0 100 100" preserveAspectRatio="none"><polygon points="50,0 100,0 100,100 42,100 42,27 0,27 0,15 30,10" fill="#fff"/></svg>
<span class="sr">1</span>
<div class="t" style="left:167.04px;top:1179px;font-size:19.19px;text-shadow:0.50px 0 0,-0.50px 0 0,1.00px 0 0,-1.00px 0 0;letter-spacing:1.40px;transform:scaleX(0.5813)">NO</div>
<div class="t" style="left:167.08px;top:1202px;font-size:19.77px;text-shadow:0.56px 0 0,-0.56px 0 0,1.12px 0 0,-1.12px 0 0;letter-spacing:1.56px;transform:scaleX(0.5620)">POVERTY</div>
<div class="t" style="left:199.30px;top:1302px;font-size:41.42px;text-shadow:0.77px 0 0,-0.77px 0 0;letter-spacing:1.07px;transform:scaleX(0.7601)">11.27</div><svg class="rb" style="left:282.11px;top:1308px;width:21.09px;height:28px" viewBox="0 0 400 540" preserveAspectRatio="none"><use href="#rub" fill="#fff"/></svg>
<div class="t" style="left:393.58px;top:937px;font-size:41.13px;text-shadow:0.94px 0 0,-0.94px 0 0;letter-spacing:1.31px;transform:scaleX(0.6716)">5</div>
<div class="t" style="left:413.11px;top:941px;font-size:14.83px;text-shadow:0.79px 0 0,-0.79px 0 0;letter-spacing:1.11px;transform:scaleX(0.5756)">GENDER</div>
<div class="t" style="left:412.95px;top:958px;font-size:15.55px;text-shadow:0.95px 0 0,-0.95px 0 0;letter-spacing:1.33px;transform:scaleX(0.5435)">EQUALITY</div>
<div class="t" style="left:426.28px;top:1105px;font-size:34.16px;text-shadow:0.49px 0 0,-0.49px 0 0;letter-spacing:0.69px;transform:scaleX(0.7955)">10.51</div><svg class="rb" style="left:497.41px;top:1110px;width:17.39px;height:24px" viewBox="0 0 400 540" preserveAspectRatio="none"><use href="#rub" fill="#fff"/></svg>
<svg class="rb" style="left:568.50px;top:943px;width:9.90px;height:29px" viewBox="0 0 100 100" preserveAspectRatio="none"><polygon points="50,0 100,0 100,100 42,100 42,27 0,27 0,15 30,10" fill="#fff"/></svg>
<svg class="rb" style="left:581.10px;top:943px;width:9.90px;height:29px" viewBox="0 0 100 100" preserveAspectRatio="none"><polygon points="50,0 100,0 100,100 42,100 42,27 0,27 0,15 30,10" fill="#fff"/></svg>
<span class="sr">11</span>
<div class="t" style="left:599.08px;top:941px;font-size:14.83px;text-shadow:0.96px 0 0,-0.96px 0 0;letter-spacing:1.34px;transform:scaleX(0.5292)">SUSTAINABLE CITIES</div>
<div class="t" style="left:599.08px;top:958px;font-size:15.12px;text-shadow:0.89px 0 0,-0.89px 0 0;letter-spacing:1.25px;transform:scaleX(0.5518)">AND COMMUNITIES</div>
<div class="t" style="left:593.65px;top:1103px;font-size:36.48px;text-shadow:0.28px 0 0,-0.28px 0 0;letter-spacing:0.40px;transform:scaleX(0.8620)">8.47</div><svg class="rb" style="left:656.13px;top:1107px;width:18.57px;height:26px" viewBox="0 0 400 540" preserveAspectRatio="none"><use href="#rub" fill="#fff"/></svg>
<div class="t" style="left:386.49px;top:1171px;font-size:28.63px;text-shadow:0.95px 0 0,-0.95px 0 0;letter-spacing:1.34px;transform:scaleX(0.6041)">10</div>
<div class="t" style="left:411.44px;top:1174px;font-size:11.05px;text-shadow:0.63px 0 0,-0.63px 0 0;letter-spacing:0.89px;transform:scaleX(0.5580)">REDUCED</div>
<div class="t" style="left:411.49px;top:1187px;font-size:11.34px;text-shadow:0.74px 0 0,-0.74px 0 0;letter-spacing:1.04px;transform:scaleX(0.5244)">INEQUALITIES</div>
<div class="t" style="left:394.00px;top:1310px;font-size:29.65px;text-shadow:0.45px 0 0,-0.45px 0 0;letter-spacing:0.63px;transform:scaleX(0.7899)">4.42</div><svg class="rb" style="left:441.60px;top:1315px;width:15.10px;height:20px" viewBox="0 0 400 540" preserveAspectRatio="none"><use href="#rub" fill="#fff"/></svg>
<div class="t" style="left:481.50px;top:1173px;font-size:24.71px;text-shadow:0.26px 0 0,-0.26px 0 0;letter-spacing:0.37px;transform:scaleX(0.7704)">8</div>
<div class="t" style="left:496.07px;top:1175px;font-size:9.45px;text-shadow:0.57px 0 0,-0.57px 0 0;letter-spacing:0.80px;transform:scaleX(0.5441)">DECENT WORK AND</div>
<div class="t" style="left:496.06px;top:1186px;font-size:9.74px;text-shadow:0.57px 0 0,-0.57px 0 0;letter-spacing:0.80px;transform:scaleX(0.5524)">ECONOMIC GROWTH</div>
<div class="t" style="left:487.19px;top:1311px;font-size:29.65px;text-shadow:0.57px 0 0,-0.57px 0 0;letter-spacing:0.80px;transform:scaleX(0.7534)">4.29</div><svg class="rb" style="left:533.20px;top:1316px;width:15.10px;height:20px" viewBox="0 0 400 540" preserveAspectRatio="none"><use href="#rub" fill="#fff"/></svg>
<div class="t" style="left:596.81px;top:1171px;font-size:18.46px;text-shadow:0.77px 0 0,-0.77px 0 0;letter-spacing:1.08px;transform:scaleX(0.5135)">OTHER GOALS</div>
<div class="t" style="left:599.51px;top:1216px;font-size:35.03px;text-shadow:0.57px 0 0,-0.57px 0 0;letter-spacing:0.79px;transform:scaleX(0.7801)">3,51</div><svg class="rb" style="left:655.57px;top:1222px;width:17.83px;height:24px" viewBox="0 0 400 540" preserveAspectRatio="none"><use href="#rub" fill="#fff"/></svg>
<div class="t" style="left:578.98px;top:1275px;font-size:23.26px;text-shadow:0.37px 0 0,-0.37px 0 0;letter-spacing:0.51px;transform:scaleX(0.7251)">9</div>
<div class="t" style="left:592.02px;top:1277px;font-size:8.87px;text-shadow:0.63px 0 0,-0.63px 0 0;letter-spacing:0.88px;transform:scaleX(0.5051)">INDUSTRY, INNOVATION</div>
<div class="t" style="left:592.20px;top:1287px;font-size:9.01px;text-shadow:0.62px 0 0,-0.62px 0 0;letter-spacing:0.86px;transform:scaleX(0.5149)">AND INFRASTRUCTURE</div>
<div class="t" style="left:583.51px;top:1313px;font-size:26.45px;text-shadow:0.42px 0 0,-0.42px 0 0;letter-spacing:0.59px;transform:scaleX(0.7834)">2.87</div><svg class="rb" style="left:625.63px;top:1317px;width:13.47px;height:18px" viewBox="0 0 400 540" preserveAspectRatio="none"><use href="#rub" fill="#fff"/></svg>
<div class="t" style="left:758.85px;top:1044px;font-size:43.60px;text-shadow:0.94px 0 0,-0.94px 0 0,1.88px 0 0,-1.88px 0 0;letter-spacing:2.63px;transform:scaleX(0.5079)">OTHER</div>
<div class="t" style="left:914.26px;top:1146px;font-size:44.62px;text-shadow:0.75px 0 0,-0.75px 0 0,1.51px 0 0,-1.51px 0 0,2.26px 0 0,-2.26px 0 0;letter-spacing:3.17px;transform:scaleX(0.4766)">PROJECTS</div>
<div class="t" style="left:737.21px;top:1296px;font-size:46.08px;text-shadow:0.58px 0 0,-0.58px 0 0;letter-spacing:0.81px;transform:scaleX(0.8139)">39.46</div><svg class="rb" style="left:834.54px;top:1303px;width:23.46px;height:32px" viewBox="0 0 400 540" preserveAspectRatio="none"><use href="#rub" fill="#fff"/></svg>
<div class="t" style="left:1259.60px;top:931px;font-size:36.34px;text-shadow:0.82px 0 0,-0.82px 0 0,1.63px 0 0,-1.63px 0 0;letter-spacing:2.28px;transform:scaleX(0.5003)">INFRASTRUCTURE</div>
<div class="t" style="left:1259.68px;top:969px;font-size:35.89px;text-shadow:0.88px 0 0,-0.88px 0 0,1.75px 0 0,-1.75px 0 0;letter-spacing:2.45px;transform:scaleX(0.4879)">FOR LIFE</div>
<div class="t" style="left:1260.97px;top:1307px;font-size:34.74px;text-shadow:0.09px 0 0,-0.09px 0 0;letter-spacing:0.12px;transform:scaleX(0.9236)">22.72</div><svg class="rb" style="left:1341.81px;top:1312px;width:17.69px;height:24px" viewBox="0 0 400 540" preserveAspectRatio="none"><use href="#rub" fill="#fff"/></svg>
<div class="t" style="left:1484.78px;top:931px;font-size:36.34px;text-shadow:0.80px 0 0,-0.80px 0 0,1.59px 0 0,-1.59px 0 0;letter-spacing:2.23px;transform:scaleX(0.5047)">EFFICIENT AND</div>
<div class="t" style="left:1485.22px;top:969px;font-size:35.89px;text-shadow:0.76px 0 0,-0.76px 0 0,1.51px 0 0,-1.51px 0 0;letter-spacing:2.12px;transform:scaleX(0.5167)">COMPETITIVE</div>
<div class="t" style="left:1484.75px;top:1005px;font-size:35.76px;text-shadow:0.76px 0 0,-0.76px 0 0,1.52px 0 0,-1.52px 0 0;letter-spacing:2.13px;transform:scaleX(0.5106)">ECONOMY</div>
<div class="t" style="left:1485.70px;top:1095px;font-size:34.74px;text-shadow:0.38px 0 0,-0.38px 0 0;letter-spacing:0.53px;transform:scaleX(0.8303)">12.23</div><svg class="rb" style="left:1560.21px;top:1100px;width:17.69px;height:24px" viewBox="0 0 400 540" preserveAspectRatio="none"><use href="#rub" fill="#fff"/></svg>
<div class="t" style="left:1484.76px;top:1169px;font-size:36.34px;text-shadow:0.78px 0 0,-0.78px 0 0,1.57px 0 0,-1.57px 0 0;letter-spacing:2.20px;transform:scaleX(0.5077)">FAMILY</div>
<div class="t" style="left:1485.82px;top:1307px;font-size:35.76px;text-shadow:0.52px 0 0,-0.52px 0 0;letter-spacing:0.72px;transform:scaleX(0.7957)">11.11</div><svg class="rb" style="left:1560.30px;top:1312px;width:18.20px;height:24px" viewBox="0 0 400 540" preserveAspectRatio="none"><use href="#rub" fill="#fff"/></svg>
<div class="t" style="left:1724.09px;top:931px;font-size:36.63px;text-shadow:0.82px 0 0,-0.82px 0 0,1.63px 0 0,-1.63px 0 0;letter-spacing:2.28px;transform:scaleX(0.5017)">EXPORT</div>
<div class="t" style="left:1723.70px;top:1040px;font-size:36.63px;text-shadow:0.64px 0 0,-0.64px 0 0;letter-spacing:0.89px;transform:scaleX(0.7693)">8.92</div><svg class="rb" style="left:1781.35px;top:1044px;width:18.65px;height:26px" viewBox="0 0 400 540" preserveAspectRatio="none"><use href="#rub" fill="#fff"/></svg>
<div class="t" style="left:1725.67px;top:1105px;font-size:35.75px;text-shadow:0.80px 0 0,-0.80px 0 0,1.61px 0 0,-1.61px 0 0;letter-spacing:2.25px;transform:scaleX(0.5039)">OTHER</div>
<div class="t" style="left:1729.34px;top:1196px;font-size:37.50px;text-shadow:0.84px 0 0,-0.84px 0 0;letter-spacing:1.18px;transform:scaleX(0.7277)">7.41</div><svg class="rb" style="left:1786.31px;top:1201px;width:19.09px;height:26px" viewBox="0 0 400 540" preserveAspectRatio="none"><use href="#rub" fill="#fff"/></svg>
<div class="t" style="left:1716.62px;top:1255px;font-size:23.84px;text-shadow:0.61px 0 0,-0.61px 0 0,1.21px 0 0,-1.21px 0 0;letter-spacing:1.70px;transform:scaleX(0.4756)">FOOD</div>
<div class="t" style="left:1716.98px;top:1280px;font-size:23.69px;text-shadow:0.52px 0 0,-0.52px 0 0,1.03px 0 0,-1.03px 0 0;letter-spacing:1.45px;transform:scaleX(0.5057)">SECURITY</div>
<div class="t" style="left:1716.79px;top:1311px;font-size:28.79px;text-shadow:0.39px 0 0,-0.39px 0 0;letter-spacing:0.55px;transform:scaleX(0.7950)">3.21</div><svg class="rb" style="left:1763.40px;top:1315px;width:14.50px;height:20px" viewBox="0 0 400 540" preserveAspectRatio="none"><use href="#rub" fill="#fff"/></svg>
<div class="t" style="left:1842.85px;top:1257px;font-size:13.66px;text-shadow:0.46px 0 0,-0.46px 0 0;letter-spacing:0.64px;transform:scaleX(0.5549)">HEALTH</div>
<div class="t" style="left:1843.82px;top:1272px;font-size:13.81px;text-shadow:0.58px 0 0,-0.58px 0 0;letter-spacing:0.81px;transform:scaleX(0.5141)">TECHNOLOGIES</div>
<div class="t" style="left:1846.60px;top:1317px;font-size:22.81px;text-shadow:0.32px 0 0,-0.32px 0 0;letter-spacing:0.45px;transform:scaleX(0.8082)">1.99</div><svg class="rb" style="left:1884.03px;top:1321px;width:11.77px;height:15px" viewBox="0 0 400 540" preserveAspectRatio="none"><use href="#rub" fill="#fff"/></svg>
<div class="t" style="left:1951.28px;top:1043px;font-size:39.53px;text-shadow:0.89px 0 0,-0.89px 0 0,1.78px 0 0,-1.78px 0 0;letter-spacing:2.50px;transform:scaleX(0.5031)">OTHER</div>
<div class="t" style="left:2091.51px;top:1136px;font-size:40.26px;text-shadow:0.69px 0 0,-0.69px 0 0,1.38px 0 0,-1.38px 0 0,2.07px 0 0,-2.07px 0 0;letter-spacing:2.90px;transform:scaleX(0.4734)">PROJECTS</div>
<div class="t" style="left:1940.65px;top:1300px;font-size:41.87px;text-shadow:0.89px 0 0,-0.89px 0 0;letter-spacing:1.24px;transform:scaleX(0.7325)">32.42</div><svg class="rb" style="left:2022.04px;top:1306px;width:21.16px;height:29px" viewBox="0 0 400 540" preserveAspectRatio="none"><use href="#rub" fill="#fff"/></svg>
<div class="t" style="left:1845.55px;top:74px;font-size:45.83px;color:#5bb351;-webkit-text-stroke:0.27px #5bb351;letter-spacing:0.20px;transform:scaleX(0.9039)">BANK</div>
<div class="t" style="left:1842.75px;top:111px;font-size:57.08px;color:#5bb351;-webkit-text-stroke:0.33px #5bb351;letter-spacing:0.25px;transform:scaleX(0.8507)">CENTER-INVEST</div>
<div class="t" style="left:817.54px;top:1086px;font-size:25.98px;color:#ffed00;-webkit-text-stroke:0.15px #ffed00;letter-spacing:0.11px;transform:scaleX(0.9039)">BANK</div>
<div class="t" style="left:815.95px;top:1108px;font-size:32.05px;color:#ffed00;-webkit-text-stroke:0.19px #ffed00;letter-spacing:0.14px;transform:scaleX(0.8586)">CENTER-INVEST</div>
<div class="t" style="left:2004.66px;top:1082px;font-size:23.34px;color:#ffed00;-webkit-text-stroke:0.14px #ffed00;letter-spacing:0.11px;transform:scaleX(0.9040)">BANK</div>
<div class="t" style="left:2003.24px;top:1101px;font-size:29.07px;color:#ffed00;-webkit-text-stroke:0.17px #ffed00;letter-spacing:0.13px;transform:scaleX(0.8509)">CENTER-INVEST</div>
</body></html>
